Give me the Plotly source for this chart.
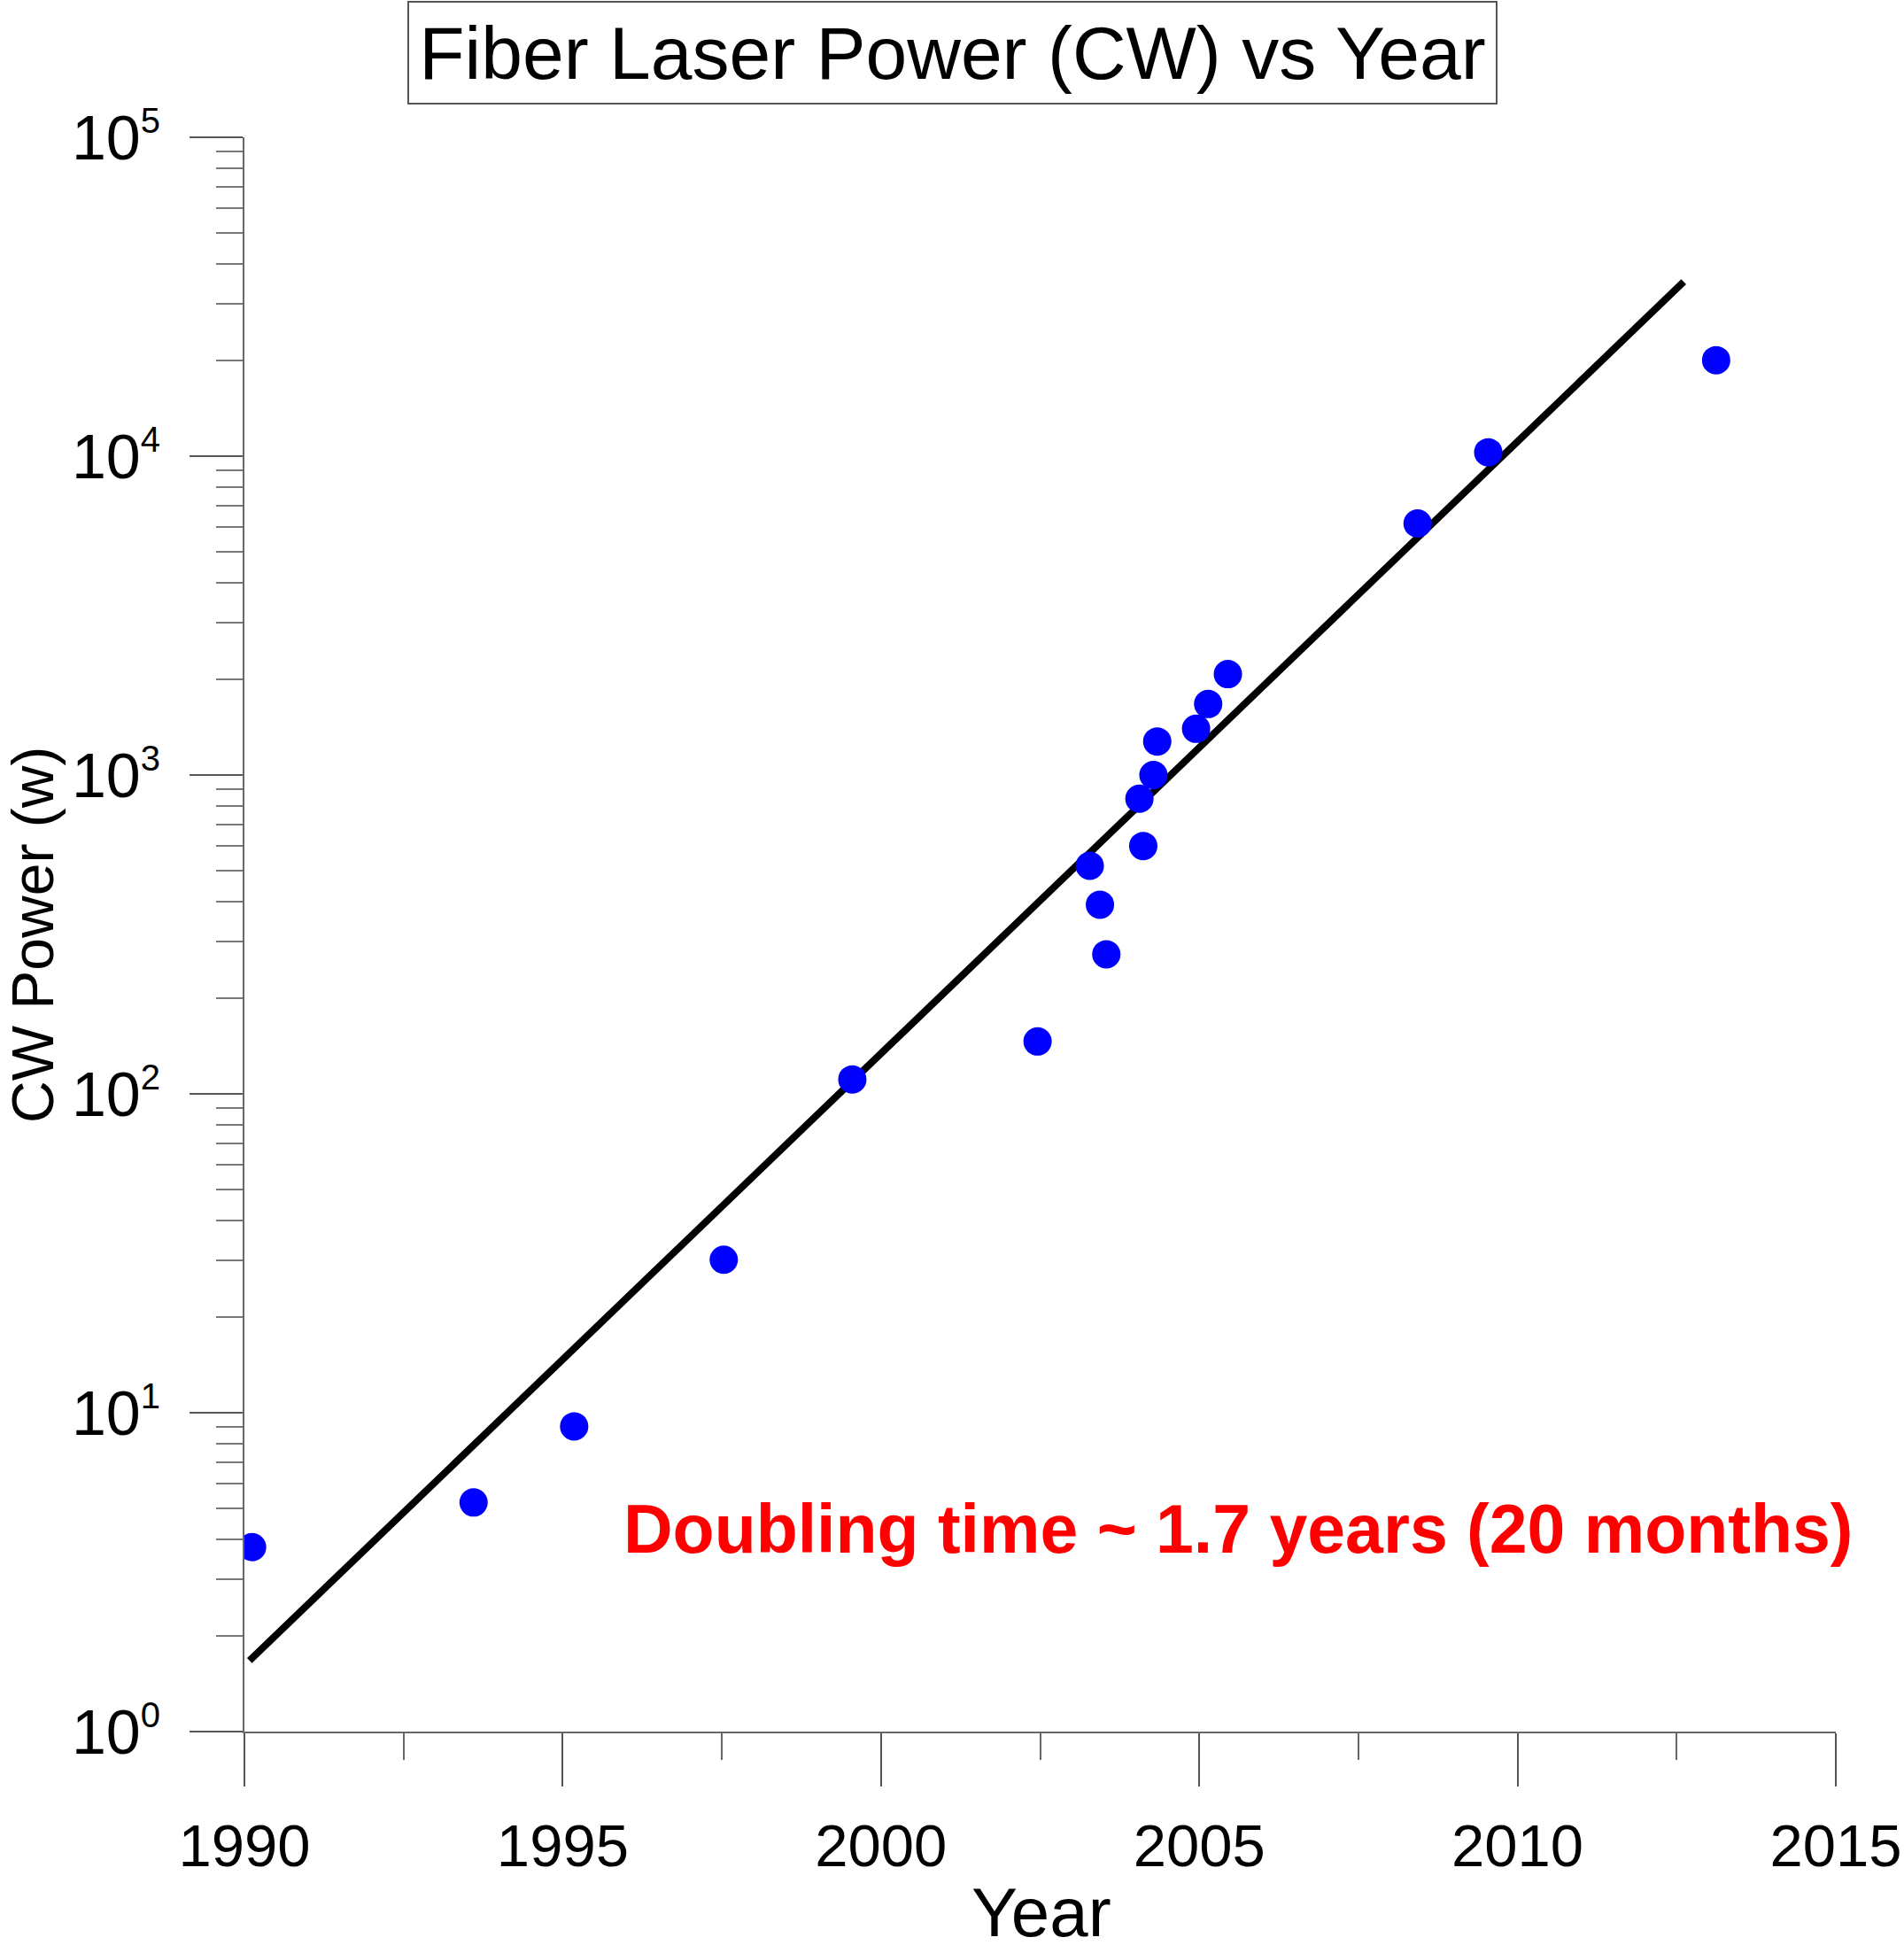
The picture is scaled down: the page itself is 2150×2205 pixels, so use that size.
import plotly.graph_objects as go

# ---- data ----
years = [1990.12, 1993.60, 1995.18, 1997.53, 1999.55, 2002.46, 2003.28, 2003.44,
         2003.54, 2004.06, 2004.12, 2004.28, 2004.34, 2004.95, 2005.14, 2005.45,
         2008.43, 2009.54, 2013.12]
power_w = [3.79, 5.23, 9.06, 30.2, 111, 146, 519, 392,
           274, 843, 599, 1000, 1274, 1396, 1670, 2072,
           6150, 10280, 20000]

fit_years = [1990.08, 2012.61]
fit_power = [1.67, 35200]

x_ticks = [1990, 1995, 2000, 2005, 2010, 2015]
y_tickvals = [1, 10, 100, 1000, 10000, 100000]
y_exponents = ["0", "1", "2", "3", "4", "5"]
y_ticktext = ["10<sup><span style='font-size:40px'>" + e + "</span></sup>"
              for e in y_exponents]

title_text = "Fiber Laser Power (CW) vs Year"
x_title = "Year"
y_title = "CW Power (w)"
note_text = "Doubling time ~ 1.7 years (20 months)"

FONT = "Liberation Sans, Arial, sans-serif"

fig = go.Figure()
fig.add_trace(go.Scatter(
    x=fit_years, y=fit_power, mode="lines",
    line=dict(color="black", width=8), showlegend=False))
fig.add_trace(go.Scatter(
    x=years, y=power_w, mode="markers",
    marker=dict(color="#0000FF", size=32, line=dict(width=0)), showlegend=False))

fig.update_layout(
    width=2150, height=2205,
    margin=dict(l=276, r=77, t=155, b=250, autoexpand=False),
    plot_bgcolor="white", paper_bgcolor="white",
    font=dict(family=FONT, color="black"),
    showlegend=False,
)

fig.update_xaxes(
    range=[1990, 2015], tickvals=x_ticks, ticks="outside", ticklen=60, tickwidth=2,
    tickcolor="#555", showline=True, linecolor="#666", linewidth=2,
    showgrid=False, zeroline=False, tickfont=dict(size=67, family=FONT),
    ticklabelstandoff=10,
    minor=dict(dtick=2.5, tick0=1990, ticks="outside", ticklen=30, tickwidth=2,
               tickcolor="#666", showgrid=False),
)
fig.update_yaxes(
    type="log", range=[0, 5], tickvals=y_tickvals, ticktext=y_ticktext,
    ticks="outside", ticklen=60, tickwidth=2, tickcolor="#555",
    showline=True, linecolor="#666", linewidth=2, showgrid=False, zeroline=False,
    tickfont=dict(size=70, family=FONT), ticklabelstandoff=19,
    minor=dict(dtick="D1", ticks="outside", ticklen=30, tickwidth=2,
               tickcolor="#777", showgrid=False),
)

fig.add_annotation(
    text=title_text, xref="paper", yref="paper", x=0.4449, y=1.053,
    xanchor="center", yanchor="middle", showarrow=False,
    font=dict(size=84, family=FONT, color="black"),
    bordercolor="#555", borderwidth=2, borderpad=4, bgcolor="white",
    width=1219, height=105, align="center",
)
fig.add_annotation(
    text=x_title, xref="paper", yref="paper", x=0.5008, y=-0.1133,
    xanchor="center", yanchor="middle", showarrow=False,
    font=dict(size=78, family=FONT, color="black"),
)
fig.add_annotation(
    text=y_title, xref="paper", yref="paper", x=-0.133, y=0.5,
    xanchor="center", yanchor="middle", showarrow=False, textangle=-90,
    font=dict(size=66, family=FONT, color="black"),
)
fig.add_annotation(
    text="<b>" + note_text + "</b>", xref="paper", yref="paper", x=0.6244, y=0.127,
    xanchor="center", yanchor="middle", showarrow=False,
    font=dict(size=77, family=FONT, color="#FF0000"),
)

fig.write_html("out.html", config={"displayModeBar": False},
               post_script="document.body.style.margin='0';")
